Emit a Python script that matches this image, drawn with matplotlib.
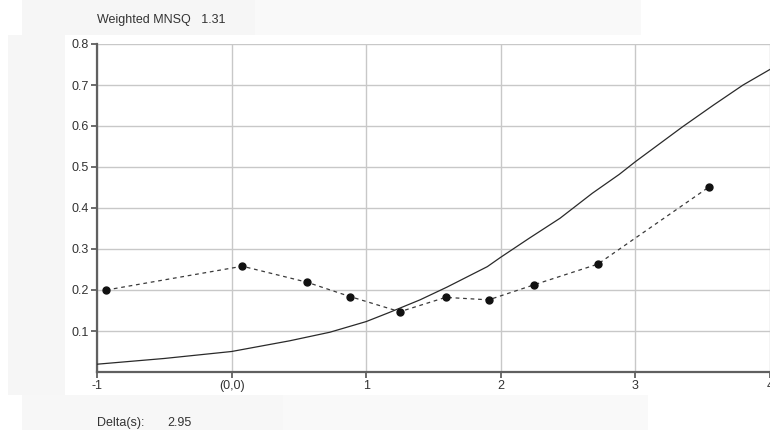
import matplotlib
matplotlib.use("Agg")
import matplotlib.pyplot as plt
from matplotlib.patches import Rectangle

# observed points (dashed line with dots)
obs_x = [-0.93, 0.08, 0.56, 0.88, 1.25, 1.59, 1.91, 2.25, 2.72, 3.55]
obs_y = [0.200, 0.258, 0.219, 0.184, 0.147, 0.182, 0.176, 0.213, 0.263, 0.452]

# model curve (solid)
curve_x = [-1.0, -0.5, 0.0, 0.43, 0.73, 1.0, 1.17, 1.4, 1.6, 1.9, 2.0,
           2.21, 2.44, 2.68, 2.88, 3.0, 3.35, 3.58, 3.8, 4.0]
curve_y = [0.019, 0.033, 0.050, 0.076, 0.097, 0.123, 0.145, 0.176, 0.207,
           0.257, 0.280, 0.326, 0.375, 0.436, 0.482, 0.513, 0.598, 0.651,
           0.700, 0.738]

xticks = [-1, 0, 1, 2, 3, 4]
xtick_labels = ["-1", "(0,0)", "1", "2", "3", "4"]
yticks = [0.1, 0.2, 0.3, 0.4, 0.5, 0.6, 0.7, 0.8]
ytick_labels = ["0.1", "0.2", "0.3", "0.4", "0.5", "0.6", "0.7", "0.8"]

mnsq_text = "Weighted MNSQ   1.31"
delta_label = "Delta(s):"
delta_value = "2.95"

plt.rcParams["font.family"] = ["Liberation Sans", "DejaVu Sans"]

W, H = 770, 430
fig = plt.figure(figsize=(W / 100, H / 100), dpi=100)
fig.patch.set_facecolor("white")

# faint panel backgrounds
def panel(x0, y0, x1, y1, c):
    fig.patches.append(Rectangle((x0 / W, 1 - y1 / H), (x1 - x0) / W, (y1 - y0) / H,
                                 transform=fig.transFigure, facecolor=c,
                                 edgecolor="none", zorder=0))

panel(22, 0, 255, 35, "#f6f6f6")
panel(255, 0, 641, 35, "#f9f9f9")
panel(8, 35, 65, 395, "#f6f6f6")
panel(22, 395, 283, 430, "#f7f7f7")
panel(283, 395, 648, 430, "#f9f9f9")

left, right, top, bottom = 97, 770, 44, 372
ax = fig.add_axes([left / W, 1 - bottom / H, (right - left) / W, (bottom - top) / H])
ax.set_facecolor("white")

ax.plot(curve_x, curve_y, color="#2a2a2a", lw=0.9, zorder=3)
ax.plot(obs_x, obs_y, color="#3a3a3a", lw=0.9, ls=(0, (3, 3)),
        marker="o", ms=5, mfc="#111111", mec="#111111", zorder=4)

ax.set_xlim(-1, 4)
ax.set_ylim(0, 0.8)
ax.set_xticks(xticks)
ax.set_xticklabels(xtick_labels)
ax.set_yticks(yticks)
ax.set_yticklabels(ytick_labels)

ax.grid(True, color="#c8c8c8", lw=1)
ax.set_axisbelow(True)
for s in ["top", "right"]:
    ax.spines[s].set_visible(False)
for s in ["left", "bottom"]:
    ax.spines[s].set_color("#606060")
    ax.spines[s].set_linewidth(1.6)

ax.tick_params(axis="both", colors="#606060", width=1.3, length=4,
               labelsize=9, labelcolor="#333333", pad=2)

fig.text(97 / W, 1 - 20 / H, mnsq_text, fontsize=9, color="#333333", va="center")
fig.text(97 / W, 1 - 423 / H, delta_label, fontsize=9, color="#333333", va="center")
fig.text(167 / W, 1 - 423 / H, delta_value, fontsize=9, color="#333333", va="center")

fig.savefig("out.png", dpi=100)
